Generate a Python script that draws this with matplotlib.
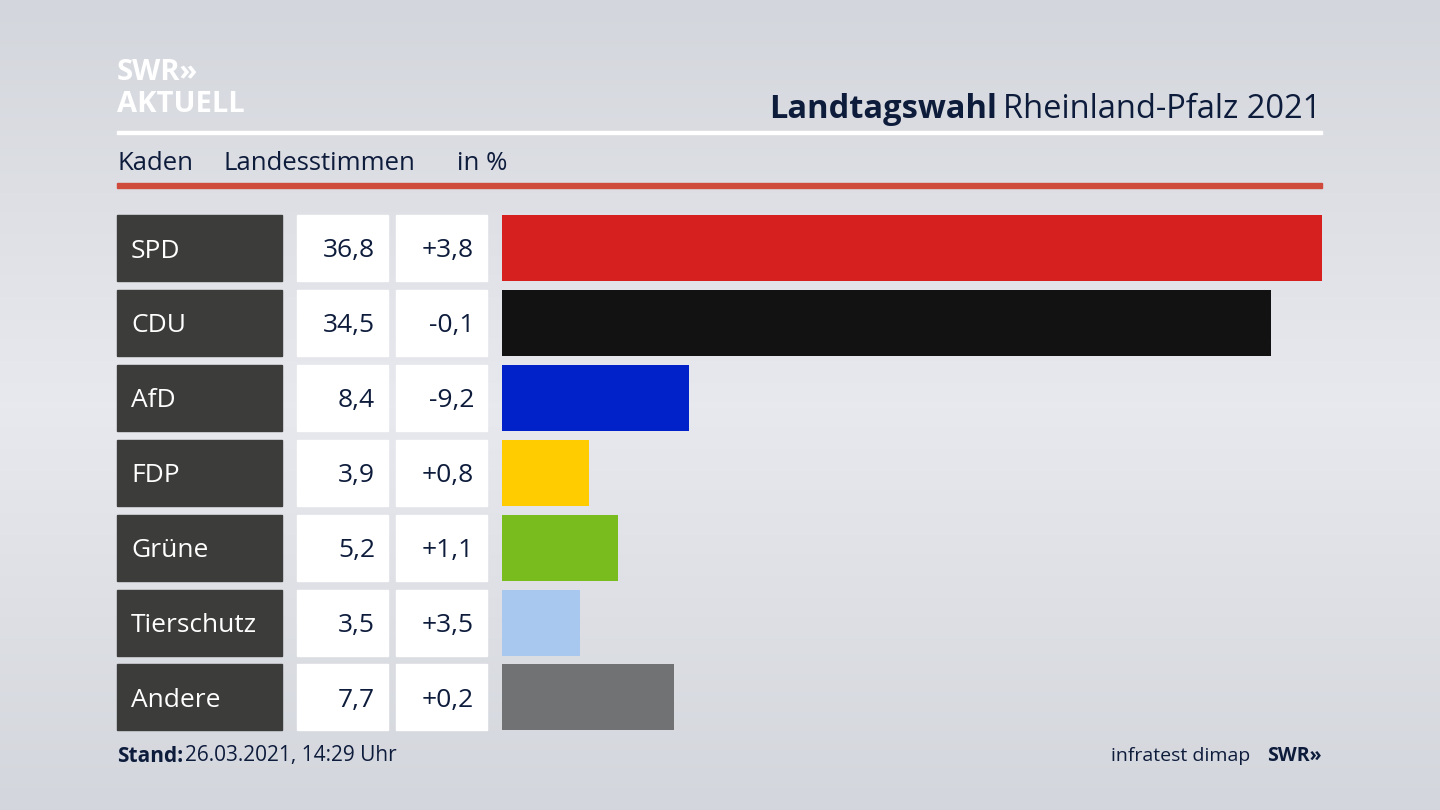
import matplotlib
matplotlib.use("Agg")
import matplotlib.pyplot as plt
from matplotlib.patches import Rectangle
import numpy as np

parties = ["SPD", "CDU", "AfD", "FDP", "Grüne", "Tierschutz", "Andere"]
values = [36.8, 34.5, 8.4, 3.9, 5.2, 3.5, 7.7]
changes = ["+3,8", "-0,1", "-9,2", "+0,8", "+1,1", "+3,5", "+0,2"]
colors = ["#d61f1f", "#121212", "#0022c8", "#ffcc00", "#78bc1e", "#a9c8ef", "#717273"]

W, H = 1440, 810
FONT = "Open Sans"
NAVY = "#0e1c3c"
DY = 3  # baseline correction for Open Sans

fig = plt.figure(figsize=(14.4, 8.1), dpi=100)

# background gradient
bg = fig.add_axes([0, 0, 1, 1], zorder=-10)
grad = np.linspace(0, 1, 256)
grad = 1 - np.abs(grad - 0.5) * 2
bg.imshow(np.tile(grad, (2, 1)).T, aspect="auto", cmap=matplotlib.colors.LinearSegmentedColormap.from_list("g", ["#d3d6dc", "#e8e9ee"]), extent=[0, 1, 0, 1])
bg.axis("off")


def fx(x):
    return x / W


def fy(y):
    return 1 - (y + DY) / H


def rect(x0, y0, x1, y1, color):
    y0 -= DY
    y1 -= DY
    fig.patches.append(Rectangle((fx(x0), fy(y1)), fx(x1) - fx(x0), fy(y0) - fy(y1),
                                 transform=fig.transFigure, color=color, zorder=1))


def txt(x, y, s, **kw):
    kw.setdefault("family", FONT)
    kw.setdefault("color", NAVY)
    kw.setdefault("ha", "left")
    fig.text(fx(x), fy(y), s, va="center", **kw)


# header
txt(117, 70, "SWR»", fontsize=21, weight="bold", color="white")
txt(117, 102, "AKTUELL", fontsize=21, weight="bold", color="white")
txt(1003, 106, "Rheinland-Pfalz 2021", fontsize=23.5)
txt(997, 106, "Landtagswahl", fontsize=23.5, weight="bold", ha="right")
rect(117, 131, 1322, 134, "white")
txt(117, 160, "Kaden", fontsize=18.5)
txt(223, 160, "Landesstimmen", fontsize=18.5)
txt(457, 160, "in %", fontsize=18.5)
rect(117, 183, 1322, 188, "#cf4a3a")

# rows
top, pitch, h = 215, 74.9, 66
for i, p in enumerate(parties):
    y0 = top + i * pitch
    yc = y0 + h / 2
    rect(117, y0, 282, y0 + h, "#3c3c3a")
    rect(297, y0, 388, y0 + h, "white")
    rect(396, y0, 487, y0 + h, "white")
    txt(131, yc, p, fontsize=19, color="white")
    txt(375, yc, f"{values[i]:.1f}".replace(".", ","), ha="right", fontsize=19)
    txt(474, yc, changes[i], ha="right", fontsize=19)

ax = fig.add_axes([fx(502), 1 - (top + 6 * pitch + h) / H, fx(1322) - fx(502),
                   (6 * pitch + h) / H])
ypos = np.arange(len(parties))
ax.barh(ypos, values, height=h / pitch, color=colors)
ax.set_xlim(0, max(values))
ax.set_ylim(len(parties) - 1 + h / pitch / 2, -h / pitch / 2)
ax.axis("off")

# footer
txt(117, 753, "Stand:", fontsize=15, weight="bold")
txt(185, 753, "26.03.2021, 14:29 Uhr", fontsize=15)
txt(1250, 753, "infratest dimap", ha="right", fontsize=14)
txt(1322, 753, "SWR»", ha="right", fontsize=14, weight="bold")

fig.savefig("out.png", dpi=100)
